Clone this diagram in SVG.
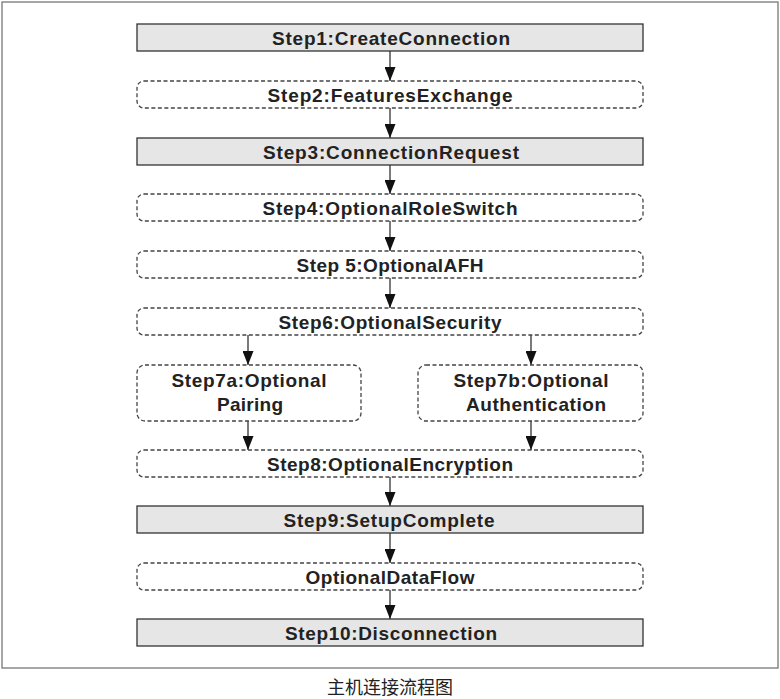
<svg xmlns="http://www.w3.org/2000/svg" width="780" height="699" viewBox="0 0 780 699">
<style>
.solid{fill:#e6e6e6;stroke:#333;stroke-width:1.3}
.dash{fill:#fff;stroke:#444;stroke-width:1.3;stroke-dasharray:4 2.5}
.t{font-family:"Liberation Sans",Arial,sans-serif;font-weight:bold;font-size:19px;fill:#222;text-anchor:middle}
.c{stroke:#222;stroke-width:1.2;fill:none;marker-end:url(#ah)}
</style>
<defs>
<marker id="ah" markerWidth="14" markerHeight="11" refX="14" refY="5.5" orient="auto" markerUnits="userSpaceOnUse" viewBox="0 0 14 11">
<path d="M0,0 L14,5.5 L0,11 Z" fill="#111"/>
</marker>
</defs>
<rect width="780" height="699" fill="#fff"/>
<rect x="2" y="2" width="776" height="666" fill="none" stroke="#777" stroke-width="1.3"/>
<g id="connectors">
<line class="c" x1="390" y1="51" x2="390" y2="81"/>
<line class="c" x1="390" y1="108" x2="390" y2="138"/>
<line class="c" x1="390" y1="165" x2="390" y2="194"/>
<line class="c" x1="390" y1="221" x2="390" y2="251"/>
<line class="c" x1="390" y1="278" x2="390" y2="308"/>
<line class="c" x1="248" y1="335" x2="248" y2="365"/>
<line class="c" x1="531" y1="335" x2="531" y2="365"/>
<line class="c" x1="248" y1="421" x2="248" y2="450"/>
<line class="c" x1="531" y1="421" x2="531" y2="450"/>
<line class="c" x1="390" y1="477" x2="390" y2="506"/>
<line class="c" x1="390" y1="533" x2="390" y2="563"/>
<line class="c" x1="390" y1="590" x2="390" y2="619"/>
</g>
<g id="step1"><rect class="solid" x="137" y="24" width="506" height="27"/><text class="t" x="391" y="45" textLength="238">Step1:CreateConnection</text></g>
<g id="step2"><rect class="dash" x="137" y="81" width="506" height="27" rx="7"/><text class="t" x="390" y="102" textLength="245">Step2:FeaturesExchange</text></g>
<g id="step3"><rect class="solid" x="137" y="138" width="506" height="27"/><text class="t" x="391" y="159" textLength="256">Step3:ConnectionRequest</text></g>
<g id="step4"><rect class="dash" x="137" y="194" width="506" height="27" rx="7"/><text class="t" x="390" y="215" textLength="255">Step4:OptionalRoleSwitch</text></g>
<g id="step5"><rect class="dash" x="137" y="251" width="506" height="27" rx="7"/><text class="t" x="390" y="272" textLength="187">Step 5:OptionalAFH</text></g>
<g id="step6"><rect class="dash" x="137" y="308" width="506" height="27" rx="7"/><text class="t" x="390" y="329" textLength="223">Step6:OptionalSecurity</text></g>
<g id="step7a"><rect class="dash" x="137" y="365" width="224" height="56" rx="8"/><text class="t" x="249" y="387" textLength="155">Step7a:Optional</text><text class="t" x="250" y="411" textLength="66">Pairing</text></g>
<g id="step7b"><rect class="dash" x="418" y="365" width="225" height="56" rx="8"/><text class="t" x="531" y="387" textLength="155">Step7b:Optional</text><text class="t" x="536" y="411" textLength="140">Authentication</text></g>
<g id="step8"><rect class="dash" x="137" y="450" width="506" height="27" rx="7"/><text class="t" x="390" y="471" textLength="246">Step8:OptionalEncryption</text></g>
<g id="step9"><rect class="solid" x="137" y="506" width="506" height="27"/><text class="t" x="389" y="527" textLength="211">Step9:SetupComplete</text></g>
<g id="flow"><rect class="dash" x="137" y="563" width="506" height="27" rx="7"/><text class="t" x="390" y="584" textLength="169">OptionalDataFlow</text></g>
<g id="step10"><rect class="solid" x="137" y="619" width="506" height="27"/><text class="t" x="391" y="640" textLength="212">Step10:Disconnection</text></g>
<text x="390" y="694" font-family="'Noto Sans CJK SC',serif" font-size="18" fill="#222" text-anchor="middle">主机连接流程图</text>
</svg>
